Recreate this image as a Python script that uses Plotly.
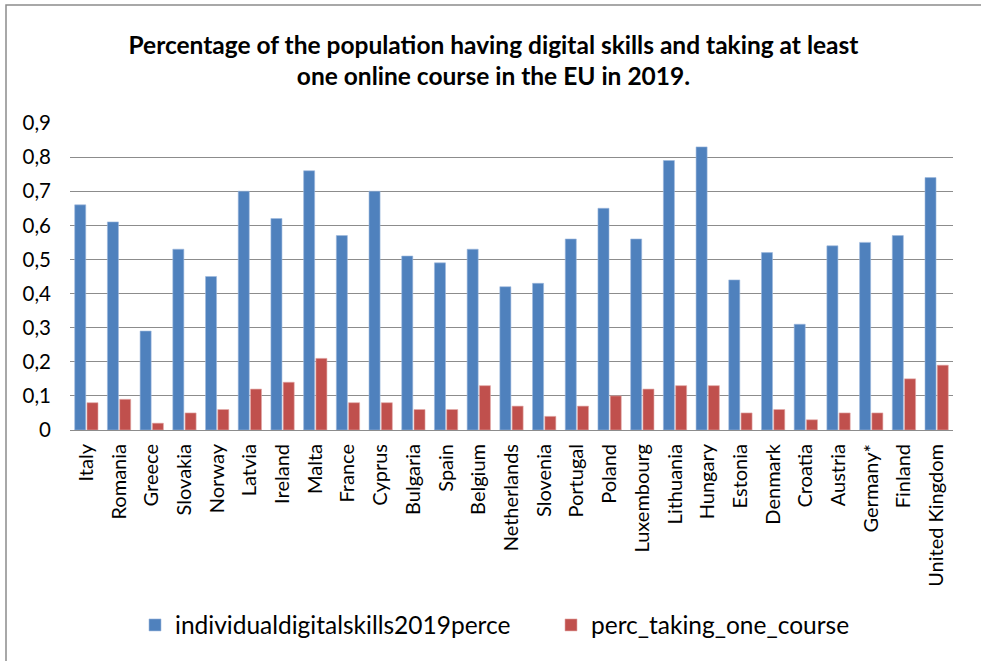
import plotly.graph_objects as go

countries = ["Italy", "Romania", "Greece", "Slovakia", "Norway", "Latvia", "Ireland",
             "Malta", "France", "Cyprus", "Bulgaria", "Spain", "Belgium", "Netherlands",
             "Slovenia", "Portugal", "Poland", "Luxembourg", "Lithuania", "Hungary",
             "Estonia", "Denmark", "Croatia", "Austria", "Germany*", "Finland",
             "United Kingdom"]
digital_skills = [0.66, 0.61, 0.29, 0.53, 0.45, 0.70, 0.62, 0.76, 0.57, 0.70, 0.51,
                  0.49, 0.53, 0.42, 0.43, 0.56, 0.65, 0.56, 0.79, 0.83, 0.44, 0.52,
                  0.31, 0.54, 0.55, 0.57, 0.74]
taking_course = [0.08, 0.09, 0.02, 0.05, 0.06, 0.12, 0.14, 0.21, 0.08, 0.08, 0.06,
                 0.06, 0.13, 0.07, 0.04, 0.07, 0.10, 0.12, 0.13, 0.13, 0.05, 0.06,
                 0.03, 0.05, 0.05, 0.15, 0.19]

FONT = "Lato, 'Open Sans', sans-serif"

fig = go.Figure()
fig.add_trace(go.Bar(x=countries, y=digital_skills, name="individualdigitalskills2019perce",
                     marker=dict(color="#4F81BD", line=dict(color="#9DB9DE", width=0.6))))
fig.add_trace(go.Bar(x=countries, y=taking_course, name="perc_taking_one_course",
                     marker=dict(color="#C0504D", line=dict(color="#E3A9A7", width=0.6))))

L, R, T, B = 70, 28, 123, 231
W, H = 981, 661
pw, ph = W - L - R, H - T - B

def px(x):
    return (x - L) / pw

def py(y):
    return (H - B - y) / ph

fig.update_layout(
    width=W, height=H,
    margin=dict(l=L, r=R, t=T, b=B),
    paper_bgcolor="white", plot_bgcolor="white",
    separators=", ",
    barmode="group", bargap=0.25, bargroupgap=0.1,
    font=dict(family=FONT, color="black"),
    title=dict(text="<b>Percentage of the population having digital skills and taking at least<br>one online course in the EU in 2019.</b>",
               x=0.503, xanchor="center", y=0.919, yanchor="middle",
               font=dict(size=24.5, family=FONT, color="black")),
    xaxis=dict(tickangle=-90, tickfont=dict(size=20), showgrid=False,
               showline=False, ticks="", ticklabelstandoff=9),
    yaxis=dict(range=[0, 0.9], dtick=0.1, showgrid=True, gridcolor="#8C8C8C",
               gridwidth=1.4, zeroline=True, zerolinecolor="#8C8C8C", zerolinewidth=1.4,
               tickfont=dict(size=20.5), ticks="", ticklabelstandoff=18),
    legend=dict(orientation="h", x=px(135), xanchor="left", y=py(625), yanchor="middle",
                font=dict(size=24.5), itemwidth=30, tracegroupgap=0,
                entrywidth=371, entrywidthmode="pixels"),
    showlegend=True,
    shapes=[dict(type="rect", xref="paper", yref="paper",
                 x0=px(6), x1=px(990), y0=py(670), y1=py(5),
                 line=dict(color="#8C8C8C", width=1.5), fillcolor="rgba(0,0,0,0)",
                 layer="below")],
)

fig.write_html("out.html")
